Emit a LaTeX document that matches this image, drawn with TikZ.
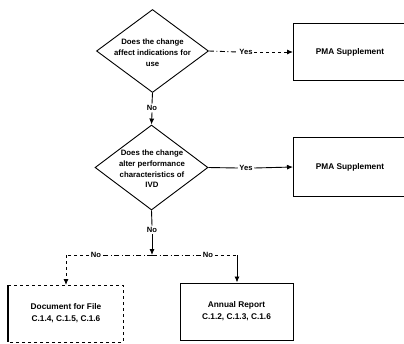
\documentclass[tikz,border=0pt]{standalone}
\usepackage{fontspec}
\setmainfont{Liberation Sans}
\usetikzlibrary{shapes.geometric,arrows.meta}
\tikzset{
  every node/.style={font=\bfseries\fontsize{7.8}{11}\selectfont},
  boxtext/.style={font=\bfseries\fontsize{8.3}{12}\selectfont},
  decision/.style={diamond,draw,line width=0.9pt,inner sep=0pt,
    minimum width=112pt,minimum height=83pt},
  outcome/.style={draw,line width=1pt,inner sep=0pt},
  lbl/.style={fill=white,inner sep=1.5pt,font=\bfseries\fontsize{7.6}{9}\selectfont},
  flow/.style={line width=0.9pt,-{Latex[length=6pt,width=5pt]}},
  plain/.style={line width=0.9pt},
  dashdot/.style={dash pattern=on 5pt off 2.5pt on 1pt off 2.5pt},
}
\begin{document}
\begin{tikzpicture}[x=1pt,y=-1pt]
\useasboundingbox (0,0) rectangle (404,343);

% decisions
\node[decision] (d1) at (152.5,51) {};
\node[align=center] (d1t) at (152.5,53) {Does the change\\affect indications for\\use};
\node[decision,minimum width=113pt,minimum height=85pt] (d2) at (151.5,167.5) {};
\node[align=center,font=\bfseries\fontsize{7.8}{10.6}\selectfont] (d2t) at (152,169)
  {Does the change\\alter performance\\characteristics of\\IVD};

% outcome boxes (PMA boxes run off the right edge)
\draw[outcome] (420,23) -- (293,23) -- (293,80) -- (420,80);
\node[boxtext] (p1) at (350,52) {PMA Supplement};
\coordinate (p1w) at (293,52);
\draw[outcome] (420,137) -- (293,137) -- (293,196) -- (420,196);
\node[boxtext] (p2) at (350,167) {PMA Supplement};
\coordinate (p2w) at (293,167);

\node[outcome,boxtext,minimum width=113pt,minimum height=57pt,align=center] (ar) at (236.5,311.5)
  {Annual Report\\C.1.2, C.1.3, C.1.6};
% document box: solid left side, dashed elsewhere
\coordinate (dfa) at (8,285);
\coordinate (dfb) at (123,342);
\draw[line width=1.1pt] (8,285) -- (8,342);
\draw[line width=0.9pt,dashed] (8,285) -- (123,285) -- (123,342) -- (8,342);
\node[boxtext,align=center] (df) at (66,313) {Document for File\\C.1.4, C.1.5, C.1.6};

% yes branches
\node[lbl] (y1) at (246,52) {Yes};
\draw[plain,dashdot] (d1.east) -- (y1.west);
\draw[flow,dashed] (y1.east) -- (p1w);
\node[lbl] (y2) at (246,168) {Yes};
\draw[plain] (d2.east) -- (y2.west);
\draw[flow] (y2.east) -- (p2w);

% no branches
\node[lbl] (n1) at (152,108) {No};
\draw[plain] (d1.south) -- (n1.north);
\draw[flow] (n1.south) -- (d2.north);
\node[lbl] (n2) at (152,230) {No};
\draw[plain] (d2.south) -- (n2.north);
\coordinate (j) at (152,255);
\draw[flow] (n2.south) -- (j);

\coordinate (jl) at (66,255);
\coordinate (jr) at (237,255);
\node[lbl] (n3) at (96,255) {No};
\node[lbl] (n4) at (208,255) {No};
\draw[plain,dashdot] (j) -- (n3.east);
\draw[plain,dashed] (n3.west) -- (jl);
\draw[plain,dashdot] (j) -- (n4.west);
\draw[plain,dashed] (n4.east) -- (jr);
\draw[flow,dashed] (jl) -- (66,285);
\draw[flow] (jr) -- (ar.north -| jr);
\end{tikzpicture}
\end{document}
